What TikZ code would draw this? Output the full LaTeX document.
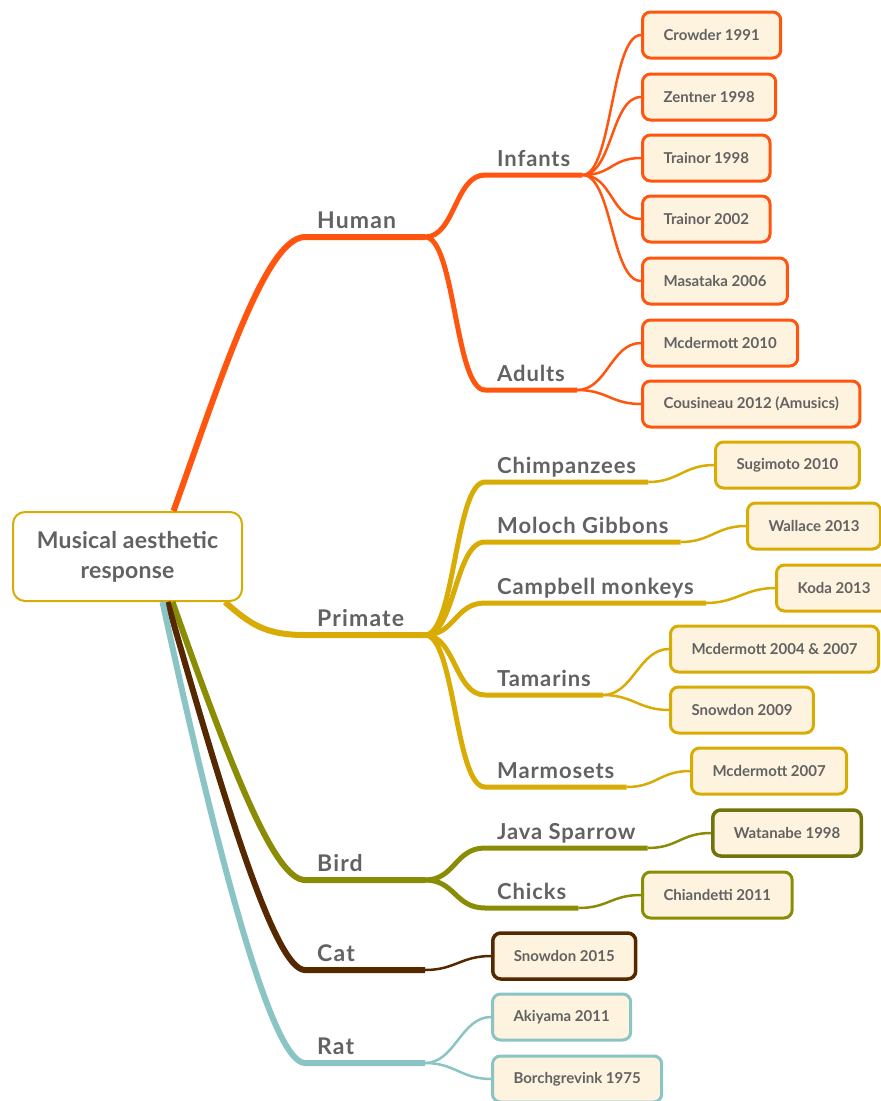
\documentclass[tikz,border=0pt]{standalone}
\usepackage{fontspec}
\setmainfont{Lato}
\definecolor{humanc}{RGB}{255,85,15}
\definecolor{primc}{RGB}{216,172,5}
\definecolor{birdc}{RGB}{138,140,5}
\definecolor{birddk}{RGB}{112,116,10}
\definecolor{catc}{RGB}{85,40,0}
\definecolor{ratc}{RGB}{138,196,196}
\definecolor{boxfill}{RGB}{254,243,222}
\definecolor{txtgray}{RGB}{98,98,98}
\tikzset{
  branch/.style={line width=6pt},
  twig/.style={line width=5pt},
  stalk/.style={line width=2.5pt},
  topic/.style={anchor=south west, inner xsep=12pt, inner ysep=8pt, text depth=0pt,
    text=txtgray, font=\fontsize{23}{26}\selectfont\bfseries\addfontfeatures{LetterSpace=5}},
  subtopic/.style={topic, font=\fontsize{22}{25}\selectfont\bfseries\addfontfeatures{LetterSpace=4}},
  leaf/.style={draw, line width=3pt, rounded corners=8pt, fill=boxfill, anchor=west,
    minimum height=46pt, inner xsep=21pt, text=txtgray,
    font=\fontsize{15}{17}\selectfont\bfseries}
}

\begin{document}
\begin{tikzpicture}[x=1pt,y=1pt]
            \useasboundingbox (0,0) rectangle (881,-1101);
            % central topic
            \node (root) at (127.5,-556.5) [draw=primc, line width=2pt, rounded corners=12pt, fill=white,
              minimum width=229pt, minimum height=89pt, align=center, text=txtgray,
              font=\fontsize{23}{30}\selectfont\bfseries\addfontfeatures{LetterSpace=1}] {Musical aesthetic\\response};

            % main topics
            \node (human) at (305,-237) [topic] {Human};
            \node (primate) at (305,-635) [topic] {Primate};
            \node (bird) at (305,-880) [topic] {Bird};
            \node (cat) at (305,-970) [topic] {Cat};
            \node (rat) at (305,-1063) [topic] {Rat};
            \coordinate (humanF) at (425,-237);
            \coordinate (primateF) at (425,-635);
            \coordinate (birdF) at (425,-880);
            \coordinate (catF) at (425,-970);
            \coordinate (ratF) at (425,-1063);

            \draw[branch, humanc] ([xshift=46pt]root.north) .. controls +(45,125) and +(-40,0) .. (human.south west) -- (humanF);
            \draw[branch, primc] ([xshift=-18pt]root.south east) .. controls +(25,-22) and +(-40,0) .. (primate.south west) -- (primateF);
            \draw[branch, birdc] ([xshift=45pt]root.south) .. controls +(60,-170) and +(-30,0) .. (bird.south west) -- (birdF);
            \draw[branch, catc] ([xshift=40pt]root.south) .. controls +(57,-200) and +(-30,0) .. (cat.south west) -- (catF);
            \draw[branch, ratc] ([xshift=35pt]root.south) .. controls +(50,-230) and +(-35,0) .. (rat.south west) -- (ratF);

            % subtopics
            \node (infants) at (485,-175) [subtopic] {Infants};
            \node (adults) at (485,-390) [subtopic] {Adults};
            \node (chimp) at (485,-482) [subtopic] {Chimpanzees};
            \node (moloch) at (485,-542) [subtopic] {Moloch Gibbons};
            \node (campbell) at (485,-603) [subtopic] {Campbell monkeys};
            \node (tamarins) at (485,-695) [subtopic] {Tamarins};
            \node (marmosets) at (485,-787) [subtopic] {Marmosets};
            \node (java) at (485,-848) [subtopic] {Java Sparrow};
            \node (chicks) at (485,-908) [subtopic] {Chicks};

            \foreach \s in {infants,adults}
              \draw[twig, humanc] (humanF) .. controls +(30,0) and +(-30,0) .. (\s.south west) -- (\s.south east);
            \foreach \s in {chimp,moloch,campbell,tamarins,marmosets}
              \draw[twig, primc] (primateF) .. controls +(30,0) and +(-30,0) .. (\s.south west) -- (\s.south east);
            \foreach \s in {java,chicks}
              \draw[twig, birdc] (birdF) .. controls +(30,0) and +(-30,0) .. (\s.south west) -- (\s.south east);

            % references
            \node (crowder) at (641,-35) [leaf, draw=humanc] {Crowder 1991};
            \node (zentner) at (641,-97) [leaf, draw=humanc] {Zentner 1998};
            \node (trainorA) at (641,-158) [leaf, draw=humanc] {Trainor 1998};
            \node (trainorB) at (641,-219) [leaf, draw=humanc] {Trainor 2002};
            \node (masataka) at (641,-281) [leaf, draw=humanc] {Masataka 2006};
            \node (mcdA) at (641,-343) [leaf, draw=humanc] {Mcdermott 2010};
            \node (cousineau) at (641,-404) [leaf, draw=humanc] {Cousineau 2012 (Amusics)};
            \node (sugimoto) at (714,-465) [leaf, draw=primc] {Sugimoto 2010};
            \node (wallace) at (746,-526) [leaf, draw=primc] {Wallace 2013};
            \node (koda) at (775,-588) [leaf, draw=primc] {Koda 2013};
            \node (mcdB) at (669,-649) [leaf, draw=primc] {Mcdermott 2004 \& 2007};
            \node (snowdonA) at (669,-710) [leaf, draw=primc] {Snowdon 2009};
            \node (mcdC) at (690,-771) [leaf, draw=primc] {Mcdermott 2007};
            \node (watanabe) at (711,-833) [leaf, draw=birddk, line width=3.5pt] {Watanabe 1998};
            \node (chiandetti) at (641,-895) [leaf, draw=birdc] {Chiandetti 2011};
            \node (snowdonB) at (491,-956) [leaf, draw=catc, line width=3.5pt] {Snowdon 2015};
            \node (akiyama) at (491,-1017) [leaf, draw=ratc] {Akiyama 2011};
            \node (borch) at (491,-1079) [leaf, draw=ratc] {Borchgrevink 1975};

            \foreach \r in {crowder,zentner,trainorA,trainorB,masataka}
              \draw[stalk, humanc] (infants.south east) .. controls +(30,0) and +(-30,0) .. (\r.west);
            \foreach \r in {mcdA,cousineau}
              \draw[stalk, humanc] (adults.south east) .. controls +(30,0) and +(-30,0) .. (\r.west);
            \draw[stalk, primc] (chimp.south east) .. controls +(30,0) and +(-30,0) .. (sugimoto.west);
            \draw[stalk, primc] (moloch.south east) .. controls +(30,0) and +(-30,0) .. (wallace.west);
            \draw[stalk, primc] (campbell.south east) .. controls +(30,0) and +(-30,0) .. (koda.west);
            \foreach \r in {mcdB,snowdonA}
              \draw[stalk, primc] (tamarins.south east) .. controls +(30,0) and +(-30,0) .. (\r.west);
            \draw[stalk, primc] (marmosets.south east) .. controls +(30,0) and +(-30,0) .. (mcdC.west);
            \draw[stalk, birdc] (java.south east) .. controls +(30,0) and +(-30,0) .. (watanabe.west);
            \draw[stalk, birdc] (chicks.south east) .. controls +(30,0) and +(-30,0) .. (chiandetti.west);
            \draw[stalk, catc] (catF) .. controls +(30,0) and +(-30,0) .. (snowdonB.west);
            \foreach \r in {akiyama,borch}
              \draw[stalk, ratc] (ratF) .. controls +(30,0) and +(-30,0) .. (\r.west);
\end{tikzpicture}
\end{document}
